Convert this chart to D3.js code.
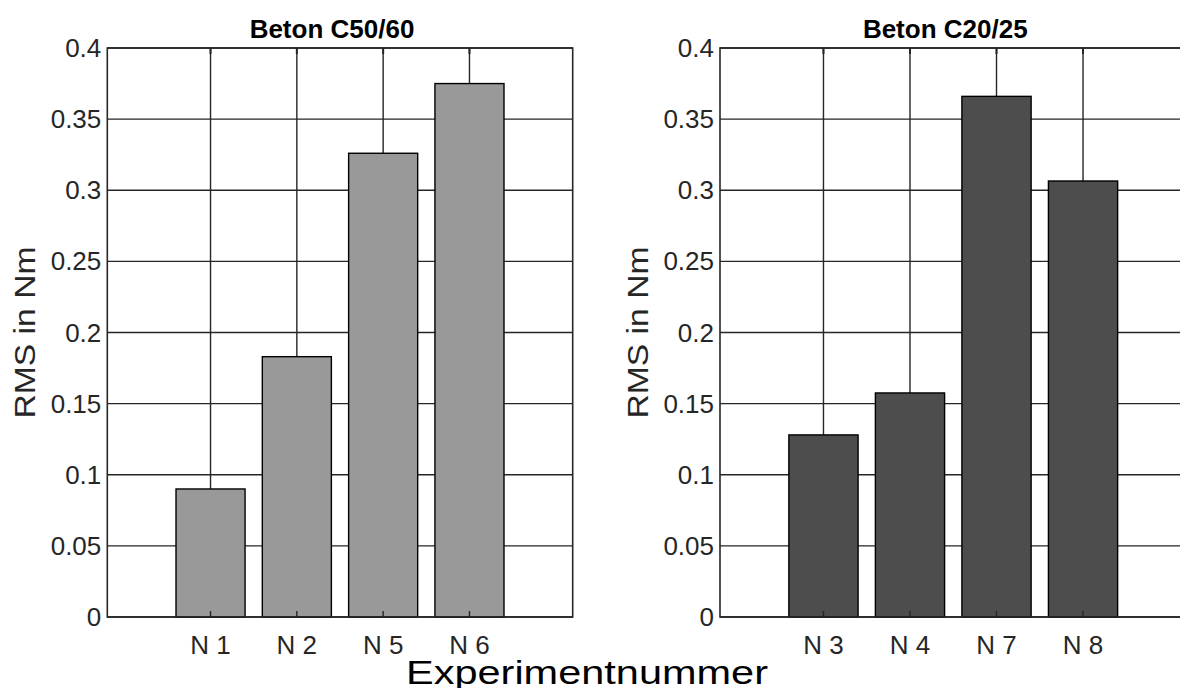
<!DOCTYPE html>
<html>
<head>
<meta charset="utf-8">
<script src="https://cdn.jsdelivr.net/npm/d3@7"></script>
<style>
  html, body { margin: 0; padding: 0; background: #fff; }
  svg { display: block; font-family: "Liberation Sans", Arial, Helvetica, sans-serif; }
</style>
</head>
<body>
<div id="chart"></div>
<script>
// data
const leftLabels = ["N 1", "N 2", "N 5", "N 6"];
const leftValues = [0.09, 0.183, 0.326, 0.375];
const rightLabels = ["N 3", "N 4", "N 7", "N 8"];
const rightValues = [0.128, 0.1575, 0.366, 0.3065];
const yTicks = [0, 0.05, 0.1, 0.15, 0.2, 0.25, 0.3, 0.35, 0.4];
const titles = ["Beton C50/60", "Beton C20/25"];
const yLabel = "RMS in Nm";
const xLabel = "Experimentnummer";

const width = 1180, height = 688;
const axisColor = "#262626";

const svg = d3.select("#chart").append("svg")
  .attr("width", width).attr("height", height);

const y = d3.scaleLinear().domain([0, 0.4]).range([617, 48]);

function panel(x0, x1, labels, values, fill, title) {
  // x positions 1..n, padded like matlab
  const pad = 1.196;
  const x = d3.scaleLinear().domain([1 - pad, labels.length + pad]).range([x0, x1]);
  const g = svg.append("g");
  const pos = labels.map((d, i) => i + 1);

  // grid
  g.append("g").selectAll("line").data(yTicks).join("line")
    .attr("x1", x0).attr("x2", x1)
    .attr("y1", d => y(d)).attr("y2", d => y(d))
    .attr("stroke", axisColor).attr("stroke-width", 1.4);
  g.append("g").selectAll("line").data(pos).join("line")
    .attr("x1", d => x(d)).attr("x2", d => x(d))
    .attr("y1", y(0)).attr("y2", y(0.4))
    .attr("stroke", axisColor).attr("stroke-width", 1.4);

  // bars
  const bw = x(1.8) - x(1);
  g.append("g").selectAll("rect").data(values).join("rect")
    .attr("x", (d, i) => x(pos[i]) - bw / 2)
    .attr("width", bw)
    .attr("y", d => y(d))
    .attr("height", d => y(0) - y(d))
    .attr("fill", fill)
    .attr("stroke", "#000").attr("stroke-width", 1.4);

  // x ticks (inward, bottom and top)
  g.append("g").selectAll("line").data(pos).join("line")
    .attr("x1", d => x(d)).attr("x2", d => x(d))
    .attr("y1", y(0)).attr("y2", y(0) - 6)
    .attr("stroke", axisColor).attr("stroke-width", 1.4);
  g.append("g").selectAll("line").data(pos).join("line")
    .attr("x1", d => x(d)).attr("x2", d => x(d))
    .attr("y1", y(0.4)).attr("y2", y(0.4) + 6)
    .attr("stroke", axisColor).attr("stroke-width", 2);

  // box
  g.append("rect")
    .attr("x", x0).attr("y", y(0.4))
    .attr("width", x1 - x0).attr("height", y(0) - y(0.4))
    .attr("fill", "none").attr("stroke", axisColor).attr("stroke-width", 1.6);

  // tick labels
  g.append("g").selectAll("text").data(yTicks).join("text")
    .attr("x", x0 - 6).attr("y", d => y(d))
    .attr("dy", "0.35em")
    .attr("text-anchor", "end")
    .attr("font-size", 26)
    .attr("fill", axisColor)
    .text(d => d3.format("")(+d.toFixed(2)));
  g.append("g").selectAll("text").data(labels).join("text")
    .attr("x", (d, i) => x(pos[i])).attr("y", 654)
    .attr("text-anchor", "middle")
    .attr("font-size", 26)
    .attr("fill", axisColor)
    .text(d => d);

  // title
  g.append("text")
    .attr("x", (x0 + x1) / 2 - 8).attr("y", 38)
    .attr("text-anchor", "middle")
    .attr("font-size", 26).attr("font-weight", "bold")
    .attr("fill", "#000")
    .text(title);

  // y label
  g.append("text")
    .attr("transform", `translate(${x0 - 72},${(y(0) + y(0.4)) / 2}) rotate(-90)`)
    .attr("text-anchor", "middle")
    .attr("font-size", 30)
    .attr("textLength", 172)
    .attr("lengthAdjust", "spacingAndGlyphs")
    .attr("fill", axisColor)
    .text(yLabel);
}

panel(107.3, 572.7, leftLabels, leftValues, "#999999", titles[0]);
panel(720, 1186.5, rightLabels, rightValues, "#4d4d4d", titles[1]);

svg.append("text")
  .attr("x", 587).attr("y", 684)
  .attr("text-anchor", "middle")
  .attr("font-size", 33)
  .attr("textLength", 362)
  .attr("lengthAdjust", "spacingAndGlyphs")
  .attr("fill", "#000")
  .text(xLabel);
</script>
</body>
</html>
